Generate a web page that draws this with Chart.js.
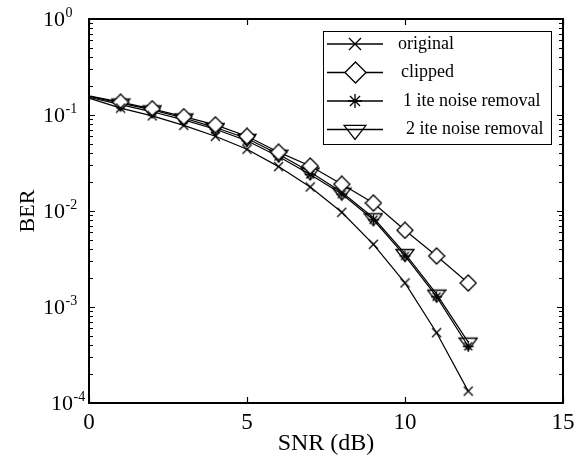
<!DOCTYPE html>
<html>
<head>
<meta charset="utf-8">
<script src="https://cdn.jsdelivr.net/npm/chart.js@4.4.0/dist/chart.umd.min.js"></script>
<style>
  html, body { margin: 0; padding: 0; background: #fff; }
  #wrap { width: 585px; height: 458px; position: relative; }
</style>
</head>
<body>
<div id="wrap"><canvas id="c" width="585" height="458"></canvas></div>
<script>
// ---- data ----
const snr = [0, 1, 2, 3, 4, 5, 6, 7, 8, 9, 10, 11, 12];
const berOriginal = [0.150, 0.118, 0.098, 0.078, 0.060, 0.044, 0.029, 0.0178, 0.0097, 0.0045, 0.00178, 0.00054, 0.000133];
const berClipped  = [0.158, 0.136, 0.116, 0.096, 0.079, 0.060, 0.041, 0.0294, 0.019, 0.0121, 0.0063, 0.0034, 0.00178];
const berIte1     = [0.153, 0.128, 0.108, 0.089, 0.071, 0.054, 0.037, 0.024, 0.0150, 0.0081, 0.0034, 0.00128, 0.00039];
const berIte2     = [0.156, 0.133, 0.113, 0.093, 0.074, 0.057, 0.039, 0.0255, 0.0157, 0.0085, 0.0036, 0.00136, 0.00043];
const seriesNames = ['original', 'clipped', '1 ite noise removal', '2 ite noise removal'];
const xTicks = [0, 5, 10, 15];
const yExponents = [0, -1, -2, -3, -4];

const FONT = '"Liberation Serif", "Times New Roman", serif';

// ---- marker images ----
function mk(w, h, draw) {
  const c = document.createElement('canvas');
  c.width = w; c.height = h;
  const g = c.getContext('2d');
  g.strokeStyle = '#000'; g.lineWidth = 1.3; g.lineJoin = 'miter';
  draw(g, w, h);
  return c;
}
function crossM(s) {
  return mk(s + 2, s + 2, (g, w, h) => {
    g.beginPath();
    g.moveTo(1, 1); g.lineTo(w - 1, h - 1);
    g.moveTo(w - 1, 1); g.lineTo(1, h - 1);
    g.stroke();
  });
}
function diamondM(s) {
  return mk(s + 2, s + 2, (g, w, h) => {
    g.beginPath();
    g.moveTo(w / 2, 1); g.lineTo(w - 1, h / 2); g.lineTo(w / 2, h - 1); g.lineTo(1, h / 2);
    g.closePath();
    g.fillStyle = '#fff'; g.fill(); g.stroke();
  });
}
function starM(s) {
  return mk(s + 2, s + 2, (g, w, h) => {
    const cx = w / 2, cy = h / 2, r = s / 2, d = r * 0.72;
    g.beginPath();
    g.moveTo(cx, cy - r); g.lineTo(cx, cy + r);
    g.moveTo(cx - r, cy); g.lineTo(cx + r, cy);
    g.moveTo(cx - d, cy - d); g.lineTo(cx + d, cy + d);
    g.moveTo(cx + d, cy - d); g.lineTo(cx - d, cy + d);
    g.stroke();
  });
}
function triM(tw, th) {
  const H = Math.ceil(2 * (2 * th / 3) + 3);
  const W = tw + 2;
  return mk(W, H, (g, w, h) => {
    const cy = h / 2, top = cy - th / 3, tip = cy + 2 * th / 3;
    g.beginPath();
    g.moveTo(1, top); g.lineTo(w - 1, top); g.lineTo(w / 2, tip);
    g.closePath();
    g.stroke();
  });
}

const markers = [crossM(9), diamondM(16), starM(11), triM(18, 12)];
const legendMarkers = [crossM(12), diamondM(21), starM(14), triM(22, 14)];

const datasetsData = [berOriginal, berClipped, berIte1, berIte2];

const datasets = datasetsData.map((vals, i) => ({
  label: seriesNames[i],
  data: snr.map((x, j) => ({ x: x, y: vals[j] })),
  borderColor: '#000',
  backgroundColor: '#000',
  borderWidth: 1.2,
  tension: 0,
  pointStyle: markers[i],
  pointRadius: (ctx) => (ctx.dataIndex === 0 ? 0 : 5),
  pointHoverRadius: 5,
  clip: false
}));

const frame = {
  id: 'frame',
  afterDraw(chart) {
    const { ctx, chartArea: a, scales } = chart;
    const xs = scales.x, ys = scales.y;
    ctx.save();
    ctx.strokeStyle = '#000';
    // ticks inward
    ctx.lineWidth = 1.2;
    ctx.beginPath();
    xTicks.forEach(v => {
      const px = Math.round(xs.getPixelForValue(v)) + 0.5;
      ctx.moveTo(px, a.bottom); ctx.lineTo(px, a.bottom - 6);
      ctx.moveTo(px, a.top); ctx.lineTo(px, a.top + 6);
    });
    for (let e = -4; e < 0; e++) {
      for (let m = 1; m <= 9; m++) {
        const v = m * Math.pow(10, e);
        const py = Math.round(ys.getPixelForValue(v)) + 0.5;
        const len = m === 1 ? 6 : 4;
        ctx.moveTo(a.left, py); ctx.lineTo(a.left + len, py);
        ctx.moveTo(a.right, py); ctx.lineTo(a.right - len, py);
      }
    }
    ctx.stroke();
    // box
    ctx.lineWidth = 2;
    ctx.strokeRect(a.left, a.top, a.right - a.left, a.bottom - a.top);

    // y tick labels with superscripts
    ctx.fillStyle = '#000';
    ctx.textBaseline = 'alphabetic';
    yExponents.forEach(e => {
      const py = ys.getPixelForValue(Math.pow(10, e));
      const base = e === -4 ? 51 : 43;
      ctx.font = '22px ' + FONT;
      ctx.textAlign = 'left';
      ctx.fillText('10', base, py + 7);
      const w10 = ctx.measureText('10').width;
      ctx.font = '14px ' + FONT;
      ctx.fillText(String(e), base + w10 + 0.5, py - 2);
    });

    // legend
    const lx = 323, ly = 31, lw = 228, lh = 113;
    ctx.fillStyle = '#fff';
    ctx.fillRect(lx, ly, lw, lh);
    ctx.lineWidth = 1;
    ctx.strokeRect(lx + 0.5, ly + 0.5, lw, lh);
    const rowY = [44, 72.5, 101, 129.5];
    const textX = [398, 401, 403, 406];
    ctx.fillStyle = '#000';
    seriesNames.forEach((name, i) => {
      const y = rowY[i];
      ctx.lineWidth = 1.3;
      ctx.beginPath();
      ctx.moveTo(327, y); ctx.lineTo(383, y);
      ctx.stroke();
      const img = legendMarkers[i];
      ctx.drawImage(img, Math.round(355 - img.width / 2), Math.round(y - img.height / 2));
      ctx.font = '18px ' + FONT;
      ctx.textAlign = 'left';
      ctx.textBaseline = 'middle';
      ctx.fillText(name, textX[i], y);
    });
    ctx.restore();
  }
};

new Chart(document.getElementById('c'), {
  type: 'line',
  data: { datasets },
  plugins: [frame],
  options: {
    responsive: false,
    animation: false,
    devicePixelRatio: 1,
    layout: { padding: { left: 0, top: 19, right: 22, bottom: 0 } },
    plugins: { legend: { display: false }, tooltip: { enabled: false } },
    scales: {
      x: {
        type: 'linear',
        min: 0, max: 15,
        afterBuildTicks: (s) => { s.ticks = xTicks.map(v => ({ value: v })); },
        afterFit: (s) => { s.height = 55; },
        grid: { display: false, drawTicks: false },
        border: { display: false },
        ticks: { color: '#000', font: { family: FONT, size: 23 }, padding: 6, maxRotation: 0, autoSkip: false },
        title: { display: true, text: 'SNR (dB)', color: '#000', font: { family: FONT, size: 24 }, padding: { top: 3, bottom: 0 } }
      },
      y: {
        type: 'logarithmic',
        min: 1e-4, max: 1,
        afterFit: (s) => { s.width = 89; },
        grid: { display: false, drawTicks: false },
        border: { display: false },
        ticks: { display: false },
        title: { display: true, text: 'BER', color: '#000', font: { family: FONT, size: 22 }, padding: { top: 15, bottom: 0 } }
      }
    }
  }
});
</script>
</body>
</html>
